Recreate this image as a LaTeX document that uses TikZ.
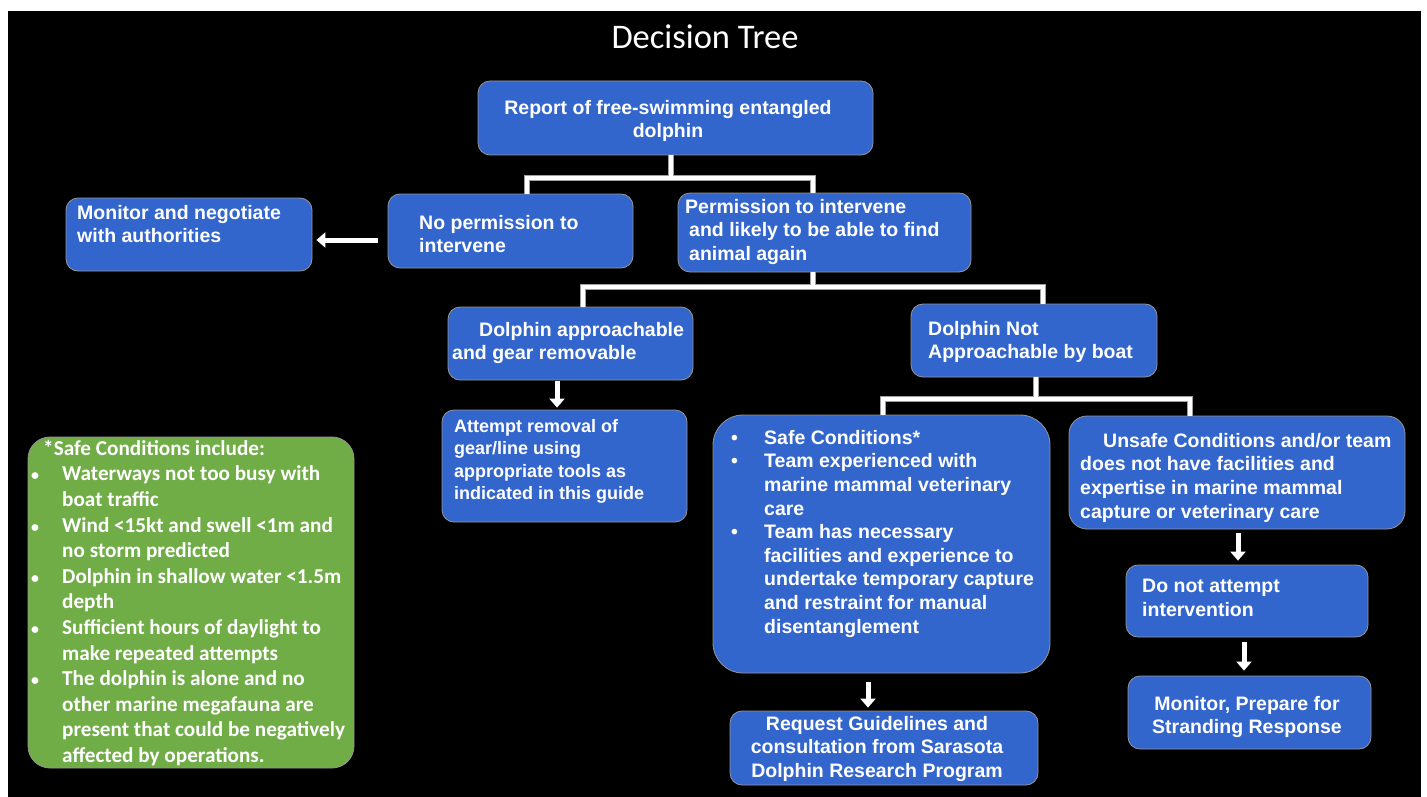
\documentclass[tikz,border=0pt]{standalone}
\usepackage{fontspec}
\usepackage{graphicx}
\setmainfont{Liberation Sans}
\newfontfamily\carlito{Carlito}
\usetikzlibrary{arrows.meta}
\definecolor{boxblue}{RGB}{51,102,204}
\definecolor{boxgreen}{RGB}{112,173,71}
\definecolor{boxedge}{RGB}{150,150,150}
\definecolor{connedge}{RGB}{160,160,160}
\definecolor{ulc}{RGB}{120,140,200}
\newcommand{\gb}{\makebox[32pt][l]{\hspace*{1pt}\scalebox{0.75}{•}}}
\begin{document}
\begin{tikzpicture}[x=1pt,y=-1pt,
  box/.style={draw=boxedge, line width=0.8pt, fill=boxblue, rounded corners=12pt, inner sep=0pt},
  txt/.style={text=white, font=\bfseries\fontsize{19.5}{23.6}\selectfont, align=left, inner sep=0pt},
  conno/.style={draw=connedge, line width=6pt},
  connw/.style={draw=white, line width=3.6pt},
  arr/.style={draw=white, line width=5pt, -{Triangle[width=15pt,length=9pt]}}
]
\useasboundingbox (0,0) rectangle (1427,797);
\fill[white] (0,0) rectangle (1427,797);
\fill[black] (8,11) rectangle (1421,797);

% title
\node[text=white, font=\carlito\fontsize{34.5}{38}\selectfont, inner sep=0pt] (title) at (705,37) {Decision Tree};

% boxes
\node[box, minimum width=395pt, minimum height=74pt] (rep) at (675.5,118) {};
\node[box, minimum width=245pt, minimum height=74pt] (noperm) at (510.5,231) {};
\node[box, minimum width=293pt, minimum height=79pt] (perm) at (824.5,232.5) {};
\node[box, minimum width=246pt, minimum height=73pt] (mon) at (189,234.5) {};
\node[box, minimum width=245pt, minimum height=73pt] (appr) at (570.5,343.5) {};
\node[box, minimum width=246pt, minimum height=73pt] (dnot) at (1034,340.5) {};
\node[box, minimum width=245pt, minimum height=112pt] (att) at (564.5,466) {};
\node[box, rounded corners=30pt, minimum width=337pt, minimum height=258pt] (safe) at (881.5,544) {};
\node[box, rounded corners=18pt, minimum width=336pt, minimum height=113pt] (unsafe) at (1237,472.5) {};
\node[box, minimum width=242pt, minimum height=72pt] (donot) at (1247,601) {};
\node[box, minimum width=243pt, minimum height=73pt] (mprep) at (1249.5,712.5) {};
\node[box, minimum width=308pt, minimum height=74pt] (req) at (884,748) {};
\node[draw=boxedge, line width=0.8pt, fill=boxgreen, rounded corners=22pt, minimum width=326pt, minimum height=331pt, inner sep=0pt] (green) at (191,602.5) {};

% texts
\node[txt, anchor=north, align=center] (repT) at (668,100) {Report of free-swimming entangled\\dolphin};
\node[txt, anchor=north west] (nopermT) at (419,215) {No permission to\\intervene};
\node[txt, anchor=north west] (permT) at (685,199) {Permission to intervene\\\hspace*{4pt}and likely to be able to find\\\hspace*{4pt}animal again};
\node[txt, anchor=north west] (monT) at (77,205) {Monitor and negotiate\\with authorities};
\node[txt, anchor=north west] (apprT) at (452,322) {\hspace*{27pt}Dolphin approachable\\and gear removable};
\node[txt, anchor=north west] (dnotT) at (928,321) {Dolphin Not\\Approachable by boat};
\node[txt, anchor=north west, font=\bfseries\fontsize{18}{22.4}\selectfont] (attT) at (454,419) {Attempt removal of\\gear/line using\\appropriate tools as\\indicated in this guide};
\node[txt, anchor=north west] (safeT) at (731,430) {\makebox[33pt][l]{•}Safe Conditions*\\
\makebox[33pt][l]{•}Team experienced with\\
\hspace*{33pt}marine mammal veterinary\\
\hspace*{33pt}care\\
\makebox[33pt][l]{•}Team has necessary\\
\hspace*{33pt}facilities and experience to\\
\hspace*{33pt}undertake temporary capture\\
\hspace*{33pt}and restraint for manual\\
\hspace*{33pt}disentanglement};
\node[txt, anchor=north west] (unsafeT) at (1080,433) {\hspace*{23pt}Unsafe Conditions and/or team\\does not have facilities and\\expertise in marine mammal\\capture or veterinary care};
\node[txt, anchor=north west] (donotT) at (1142,579) {Do not attempt\\intervention};
\node[txt, anchor=north, align=center] (mprepT) at (1247,696) {Monitor, Prepare for\\Stranding Response};
\node[txt, anchor=north, align=center] (reqT) at (877,716) {Request Guidelines and\\consultation from Sarasota\\Dolphin Research Program};
\node[txt, anchor=north west, font=\carlito\bfseries\fontsize{21.2}{25.6}\selectfont] (greenT) at (30,440) {\hspace*{13pt}*Safe Conditions include:\\
\gb Waterways not too busy with\\
\hspace*{32pt}boat traffic\\
\gb Wind <15kt and swell <1m and\\
\hspace*{32pt}no storm predicted\\
\gb Dolphin in shallow water <1.5m\\
\hspace*{32pt}depth\\
\gb Sufficient hours of daylight to\\
\hspace*{32pt}make repeated attempts\\
\gb The dolphin is \textcolor{ulc}{\underline{\textcolor{white}{alone}}} and no\\
\hspace*{32pt}other marine megafauna are\\
\hspace*{32pt}present that could be negatively\\
\hspace*{32pt}affected by operations.};

% junction coordinates
\coordinate (j1) at (671,178);
\coordinate (j2) at (813,287);
\coordinate (j3) at (1036,399);

% connectors: outline pass, then white pass
\foreach \s in {conno,connw}{
  \draw[\s] ([xshift=-4.5pt]rep.south) -- (j1);
  \draw[\s] ([xshift=16.5pt]noperm.north) |- (j1) -| ([xshift=-11.5pt]perm.north);
  \draw[\s] ([xshift=-11.5pt]perm.south) -- (j2);
  \draw[\s] ([xshift=12.5pt]appr.north) |- (j2) -| ([xshift=9pt]dnot.north);
  \draw[\s] ([xshift=2pt]dnot.south) -- (j3);
  \draw[\s] ([xshift=1.5pt]safe.north) |- (j3) -| ([xshift=-47pt]unsafe.north);
}

% arrows
\draw[arr] ([xshift=-10pt,yshift=-9pt]noperm.west) -- ([xshift=4pt,yshift=-9pt]noperm.west -| mon.east);
\draw[arr] ([xshift=-13.5pt,yshift=-1pt]appr.south) -- ([xshift=-13.5pt,yshift=2pt]appr.south |- att.north);
\draw[arr] ([xshift=-13.5pt,yshift=-9pt]safe.south) -- ([xshift=-13.5pt,yshift=3pt]safe.south |- req.north);
\draw[arr] ([xshift=1pt,yshift=-4pt]unsafe.south) -- ([xshift=1pt,yshift=4pt]unsafe.south |- donot.north);
\draw[arr] ([xshift=-3pt,yshift=-5pt]donot.south) -- ([xshift=-3pt,yshift=5pt]donot.south |- mprep.north);
\end{tikzpicture}
\end{document}
